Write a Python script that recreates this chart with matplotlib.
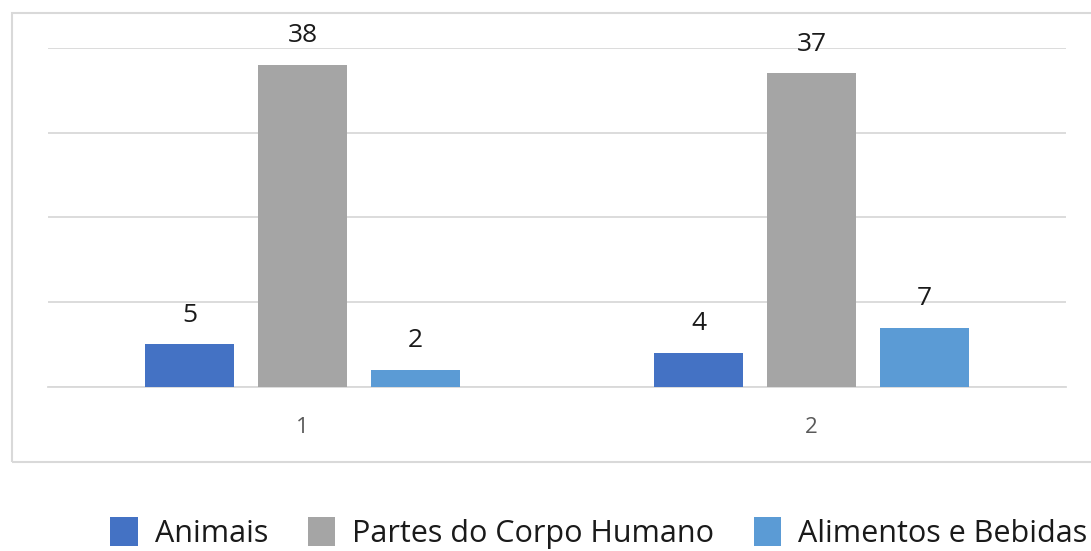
import matplotlib
matplotlib.use("Agg")
import matplotlib.pyplot as plt
from matplotlib.patches import Rectangle
import numpy as np

plt.rcParams['font.family'] = ['Open Sans', 'DejaVu Sans']

categories = ['1', '2']
series_names = ['Animais', 'Partes do Corpo Humano', 'Alimentos e Bebidas']
animais = [5, 4]
partes_corpo = [38, 37]
alimentos = [2, 7]
colors = ['#4472C4', '#A5A5A5', '#5B9BD5']

fig = plt.figure(figsize=(10.91, 5.51), dpi=100)
ax = fig.add_axes([0.044, 0.298, 0.933, 0.615])

x = np.arange(len(categories))
width = 0.175
step = 0.222
for i, (vals, name) in enumerate(zip([animais, partes_corpo, alimentos], series_names)):
    bars = ax.bar(x + (i - 1) * step, vals, width, color=colors[i], label=name, zorder=3)
    for b, v in zip(bars, vals):
        ax.annotate(str(v), (b.get_x() + b.get_width() / 2, v), xytext=(0, 12),
                    textcoords='offset points', ha='center', va='bottom',
                    fontsize=19, color='#1a1a1a')

ax.set_xlim(-0.5, 1.5)
ax.set_ylim(0, 40)
ax.set_yticks([0, 10, 20, 30, 40])
ax.yaxis.grid(True, color='#D9D9D9', lw=1.3, zorder=0)
ax.tick_params(axis='y', left=False, labelleft=False)
ax.set_xticks(x)
ax.set_xticklabels(categories, fontsize=16, color='#595959')
ax.tick_params(axis='x', length=0, pad=22)
for s in ['top', 'right', 'left']:
    ax.spines[s].set_visible(False)
ax.spines['bottom'].set_color('#D9D9D9')
ax.spines['bottom'].set_linewidth(1.3)

# moldura da área do gráfico
fig.patches.append(Rectangle((12 / 1091, 1 - 462 / 551), 1.0, (462 - 13) / 551,
                             transform=fig.transFigure, fill=False,
                             edgecolor='#D9D9D9', lw=1.5))

fig.legend(loc='center', bbox_to_anchor=(0.549, 0.033), ncol=3, frameon=False,
           fontsize=22, handlelength=0.9, handleheight=1.1, columnspacing=1.3,
           handletextpad=0.55, labelcolor='#1a1a1a')

fig.savefig('out.png', dpi=100)
